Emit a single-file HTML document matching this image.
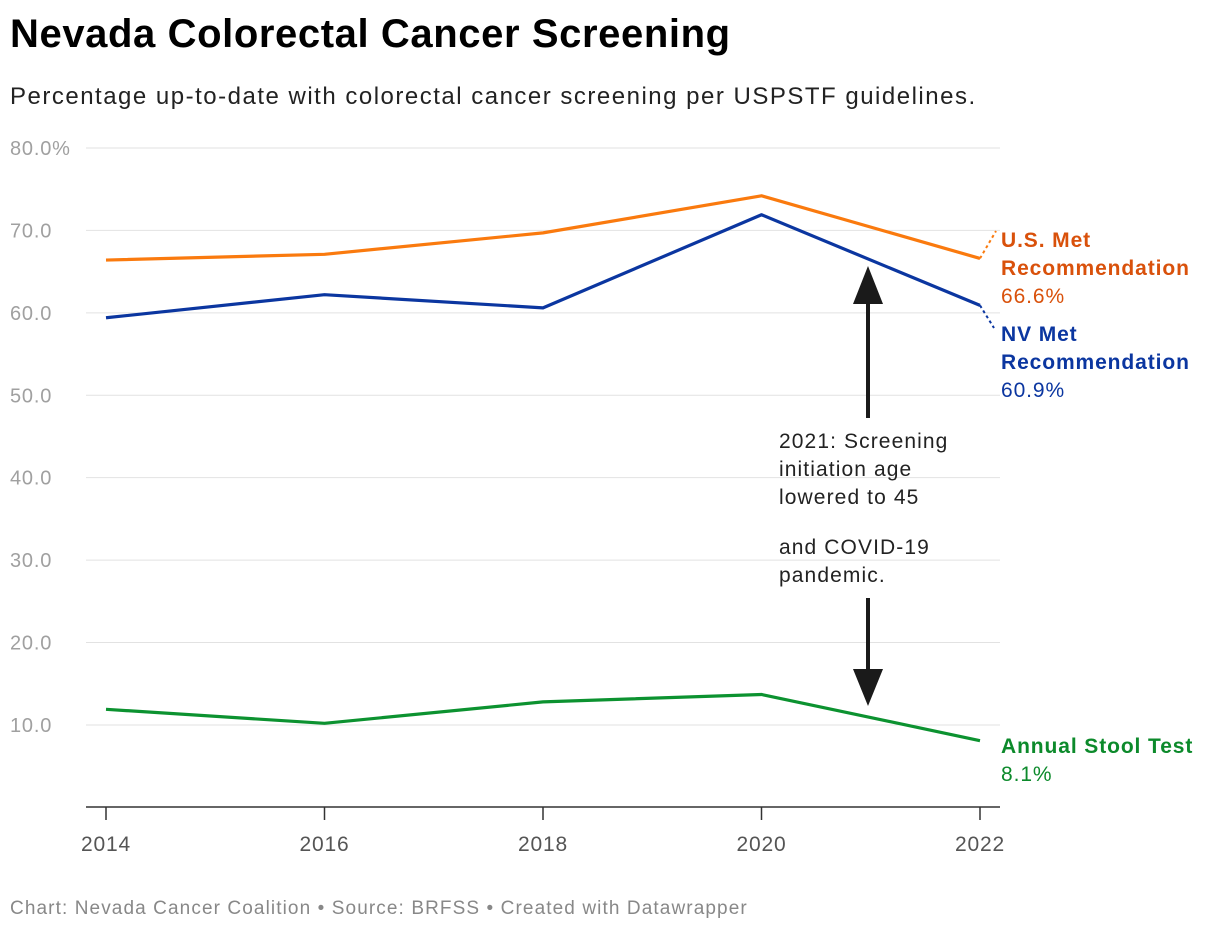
<!DOCTYPE html>
<html><head><meta charset="utf-8"><style>
body{margin:0;width:1220px;height:934px;background:#fff;font-family:"Liberation Sans",Roboto,sans-serif;overflow:hidden;position:relative}
h1{position:absolute;left:10px;top:12px;margin:0;font-size:40px;font-weight:bold;color:#000;letter-spacing:0.6px}
.sub{position:absolute;left:10px;top:83px;font-size:24px;color:#222;letter-spacing:1.5px}
.foot{position:absolute;left:10px;top:898px;font-size:19px;color:#888;letter-spacing:1.1px}
svg{position:absolute;left:0;top:0}
</style></head><body>
<h1>Nevada Colorectal Cancer Screening</h1>
<div class="sub">Percentage up-to-date with colorectal cancer screening per USPSTF guidelines.</div>
<div class="foot">Chart: Nevada Cancer Coalition • Source: BRFSS • Created with Datawrapper</div>
<svg id="chart" width="1220" height="934"></svg>
<script>
const years=[2014,2016,2018,2020,2022];
const usVals=[66.4,67.1,69.7,74.2,66.6];
const nvVals=[59.4,62.2,60.6,71.9,60.9];
const stoolVals=[11.9,10.2,12.8,13.7,8.1];
const yTicks=[10,20,30,40,50,60,70,80];
const yTickLabels=["10.0","20.0","30.0","40.0","50.0","60.0","70.0","80.0%"];

const svg=document.getElementById('chart');
const NS='http://www.w3.org/2000/svg';
const x=v=>106+(v-2014)*(980-106)/8;
const y=v=>807.4-v*8.243;
function mk(tag,attrs,txt){const e=document.createElementNS(NS,tag);for(const k in attrs)e.setAttribute(k,attrs[k]);if(txt!==undefined)e.textContent=txt;svg.appendChild(e);return e;}

yTicks.forEach((t,i)=>{
  const g=mk('line',{x1:86,x2:1000,y1:y(t),y2:y(t),stroke:'#e2e2e2','stroke-width':1});
  
  
  const l=mk('text',{x:10,y:y(t)+7,'font-size':20,fill:'#a0a0a0','font-family':'Liberation Sans, sans-serif','letter-spacing':'0.8'},yTickLabels[i]);
  
  
});
const ax=mk('line',{x1:86,x2:1000,y1:807,y2:807,stroke:'#333','stroke-width':1.5});


years.forEach(yr=>{
  const tk=mk('line',{x1:x(yr),x2:x(yr),y1:807,y2:820,stroke:'#333','stroke-width':1.5});
  
  
  const lb=mk('text',{x:x(yr),y:851,'font-size':21,fill:'#555','text-anchor':'middle','font-family':'Liberation Sans, sans-serif','letter-spacing':'0.8'},yr);
  
  
});
function series(vals,color,name){
  const p=mk('polyline',{points:vals.map((v,i)=>x(years[i])+','+y(v)).join(' '),fill:'none',stroke:color,'stroke-width':3.2,'stroke-linejoin':'round'});
  
  
}
series(usVals,'#fa7a0e','us-met-line');
series(nvVals,'#0b36a0','nv-met-line');
series(stoolVals,'#0c9230','annual-stool-line');

const last=years.length-1;
const c1=mk('line',{x1:x(years[last]),y1:y(usVals[last]),x2:996,y2:231,stroke:'#fa7a0e','stroke-width':2,'stroke-dasharray':'3,3'});


const c2=mk('line',{x1:x(years[last]),y1:y(nvVals[last]),x2:994,y2:328,stroke:'#0b36a0','stroke-width':2,'stroke-dasharray':'3,3'});



function label(lines,yy,color,name){
  const t=mk('text',{x:1001,y:yy,'font-size':21,fill:color,'font-family':'Liberation Sans, sans-serif','letter-spacing':'0.9'});
  
  
  lines.forEach((ln,i)=>{const s=document.createElementNS(NS,'tspan');s.setAttribute('x',1001);s.setAttribute('dy',i?28:0);if(ln[1])s.setAttribute('font-weight','bold');s.textContent=ln[0];t.appendChild(s);});
}
label([['U.S. Met',1],['Recommendation',1],[usVals[last].toFixed(1)+'%',0]],247,'#d9510b','us-met-label');
label([['NV Met',1],['Recommendation',1],[nvVals[last].toFixed(1)+'%',0]],341,'#0b36a0','nv-met-label');
label([['Annual Stool Test',1],[stoolVals[last].toFixed(1)+'%',0]],753,'#0c8a2b','stool-label');

const a1=mk('line',{x1:868,x2:868,y1:300,y2:418,stroke:'#1a1a1a','stroke-width':4});


const h1=mk('polygon',{points:'853,304 883,304 868,266',fill:'#1a1a1a'});


const a2=mk('line',{x1:868,x2:868,y1:598,y2:672,stroke:'#1a1a1a','stroke-width':4});


const h2=mk('polygon',{points:'853,669 883,669 868,706',fill:'#1a1a1a'});


const ann=mk('text',{x:779,y:448,'font-size':21,fill:'#222','font-family':'Liberation Sans, sans-serif','letter-spacing':'1.1'});


[['2021: Screening',0],['initiation age',28],['lowered to 45',28],['and COVID-19',50],['pandemic.',28]].forEach(([t,dy])=>{const s=document.createElementNS(NS,'tspan');s.setAttribute('x',779);s.setAttribute('dy',dy);s.textContent=t;ann.appendChild(s);});
</script>
</body></html>
